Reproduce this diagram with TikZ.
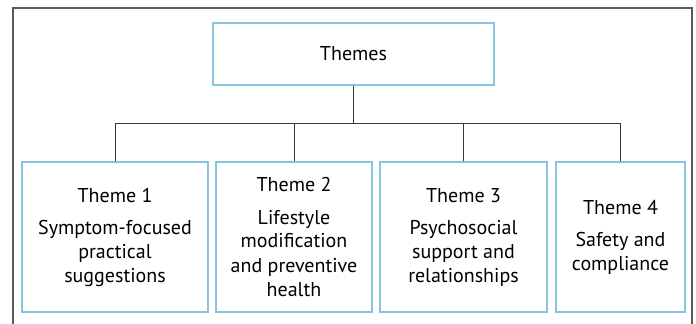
\documentclass[tikz,border=0pt]{standalone}
\usepackage{fontspec}
\setmainfont{PT Sans}
\usepackage{xcolor}
\usepackage{tikz}
\definecolor{themeblue}{RGB}{135,196,224}
\definecolor{framegray}{RGB}{90,90,90}
\definecolor{linkgray}{RGB}{55,55,55}

\begin{document}
\begin{tikzpicture}[x=0.75pt,y=0.75pt,yscale=-1,xscale=1,
  themebox/.style={draw=themeblue, line width=0.8pt, align=center, inner sep=0pt,
    font=\fontsize{15}{18}\selectfont},
  link/.style={draw=linkgray, line width=0.7pt}]
\useasboundingbox (0,0) rectangle (696,324);

%Shape: Frame
\draw [framegray, line width=1.1pt] (13,324) -- (13,8) -- (692,8) -- (692,324) ;

%Shape: Rectangle [Themes]
\node (themes) [themebox, minimum width=210.75pt, minimum height=46.5pt] at (353.5,54) {Themes};

%Shape: Rectangle [Theme 1..4]
\node (t1) [themebox, minimum width=139.5pt, minimum height=112.5pt] at (115,237)
  {Theme 1\\[6pt] Symptom-focused\\practical\\suggestions};
\node (t2) [themebox, minimum width=117pt, minimum height=112.5pt] at (294,237)
  {Theme 2\\[6pt] Lifestyle\\modification\\and preventive\\health};
\node (t3) [themebox, minimum width=125.25pt, minimum height=112.5pt] at (463.5,237)
  {Theme 3\\[6pt] Psychosocial\\support and\\relationships};
\node (t4) [themebox, minimum width=96.75pt, minimum height=112.5pt] at (620.5,237)
  {Theme 4\\[6pt] Safety and\\compliance};

%Straight Lines
\coordinate (bus) at (353.5,123);
\draw [link] (themes.south) -- (themes |- bus) ;
\draw [link] (t1.north) -- (t1 |- bus) -| (t4.north) ;
\draw [link] (t2.north) -- (t2 |- bus) ;
\draw [link] (t3.north) -- (t3 |- bus) ;

\end{tikzpicture}
\end{document}
